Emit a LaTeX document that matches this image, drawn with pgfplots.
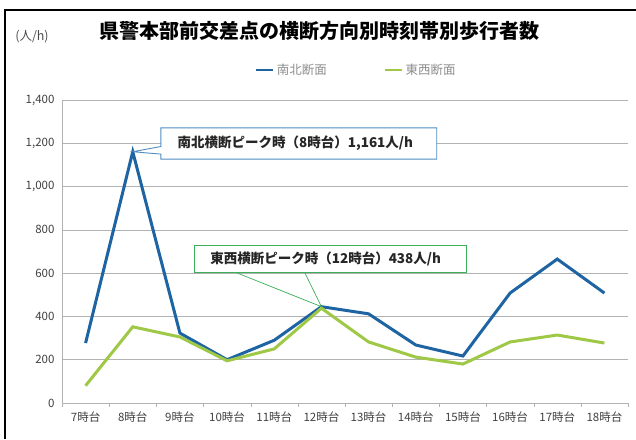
\documentclass[border=0pt]{standalone}
\usepackage{fontspec}
\setmainfont{Noto Sans CJK JP}
\usepackage{pgfplots}
\pgfplotsset{compat=1.18}
\definecolor{nsblue}{RGB}{30,100,162}
\definecolor{ewgreen}{RGB}{158,200,70}
\definecolor{c1border}{RGB}{80,140,195}
\definecolor{c2border}{RGB}{60,175,90}
\begin{document}
\begin{tikzpicture}[x=1pt,y=1pt]
\useasboundingbox (0,0) rectangle (636,439);
% frame
\draw[black, line width=1.2pt] (5,0) -- (5,429) -- (636,429);
% title and unit
\node[font=\bfseries\fontsize{20}{23}\selectfont] at (319,408) {県警本部前交差点の横断方向別時刻帯別歩行者数};
\node[font=\fontsize{12.5}{14}\selectfont, text=black!70] at (32,402) {(人/h)};
\begin{axis}[
  at={(62pt,36pt)}, anchor=south west,
  scale only axis, width=566pt, height=303pt,
  xmin=6.5, xmax=18.5, ymin=0, ymax=1400,
  xtick={7,...,18},
  xticklabels={7時台,8時台,9時台,10時台,11時台,12時台,13時台,14時台,15時台,16時台,17時台,18時台},
  ytick={0,200,...,1400},
  /pgf/number format/1000 sep={,},
  /pgf/number format/assume math mode=true,
  axis lines=left, axis line style={-, draw=gray!60},
  major tick length=0pt,
  extra x ticks={6.5,7.5,...,18.5}, extra x tick labels={},
  extra x tick style={major tick length=4pt, tick align=outside, tick style={gray!60}},
  ymajorgrids, grid style={gray!60, line width=0.7pt},
  ticklabel style={font=\fontsize{11.5}{13}\selectfont, text=black!75},
  xticklabel style={yshift=-5pt},
  yticklabel style={xshift=-4pt},
  legend columns=2,
  legend style={draw=none, fill=none, at={(0.52,1.099)}, anchor=center, font=\fontsize{12.5}{14}\selectfont, text=black!45},
  legend image post style={line width=2.8pt},
  /tikz/every even column/.append style={column sep=55pt},
  clip=false,
]
\addplot[nsblue, line width=3pt] coordinates {
 (7,277) (8,1161) (9,323) (10,200) (11,290) (12,445) (13,412) (14,268) (15,217) (16,508) (17,665) (18,508)};
\addlegendentry{南北断面}
\addplot[ewgreen, line width=3pt] coordinates {
 (7,80) (8,352) (9,305) (10,195) (11,250) (12,438) (13,282) (14,212) (15,180) (16,282) (17,314) (18,277)};
\addlegendentry{東西断面}
% callout 1
\draw[c1border, fill=white, line width=0.9pt] (axis cs:8.597,1271) -- (axis cs:14.445,1271) -- (axis cs:14.445,1127) -- (axis cs:8.597,1127) -- (axis cs:8.597,1150) -- (axis cs:8,1161) -- (axis cs:8.597,1185) -- cycle;
\node[font=\bfseries\fontsize{13.5}{15}\selectfont, text=black!85] at (axis cs:11.447,1199) {南北横断ピーク時（8時台）1,161人/h};
% callout 2
\draw[c2border, fill=white, line width=0.9pt] (axis cs:9.318,730) rectangle (axis cs:15.08,601);
\draw[c2border, line width=0.7pt] (axis cs:10.21,601) -- (axis cs:12,445) -- (axis cs:11.65,601);
\node[font=\bfseries\fontsize{13.5}{15}\selectfont, text=black!85] at (axis cs:12.09,666) {東西横断ピーク時（12時台）438人/h};
\end{axis}
\end{tikzpicture}
\end{document}
